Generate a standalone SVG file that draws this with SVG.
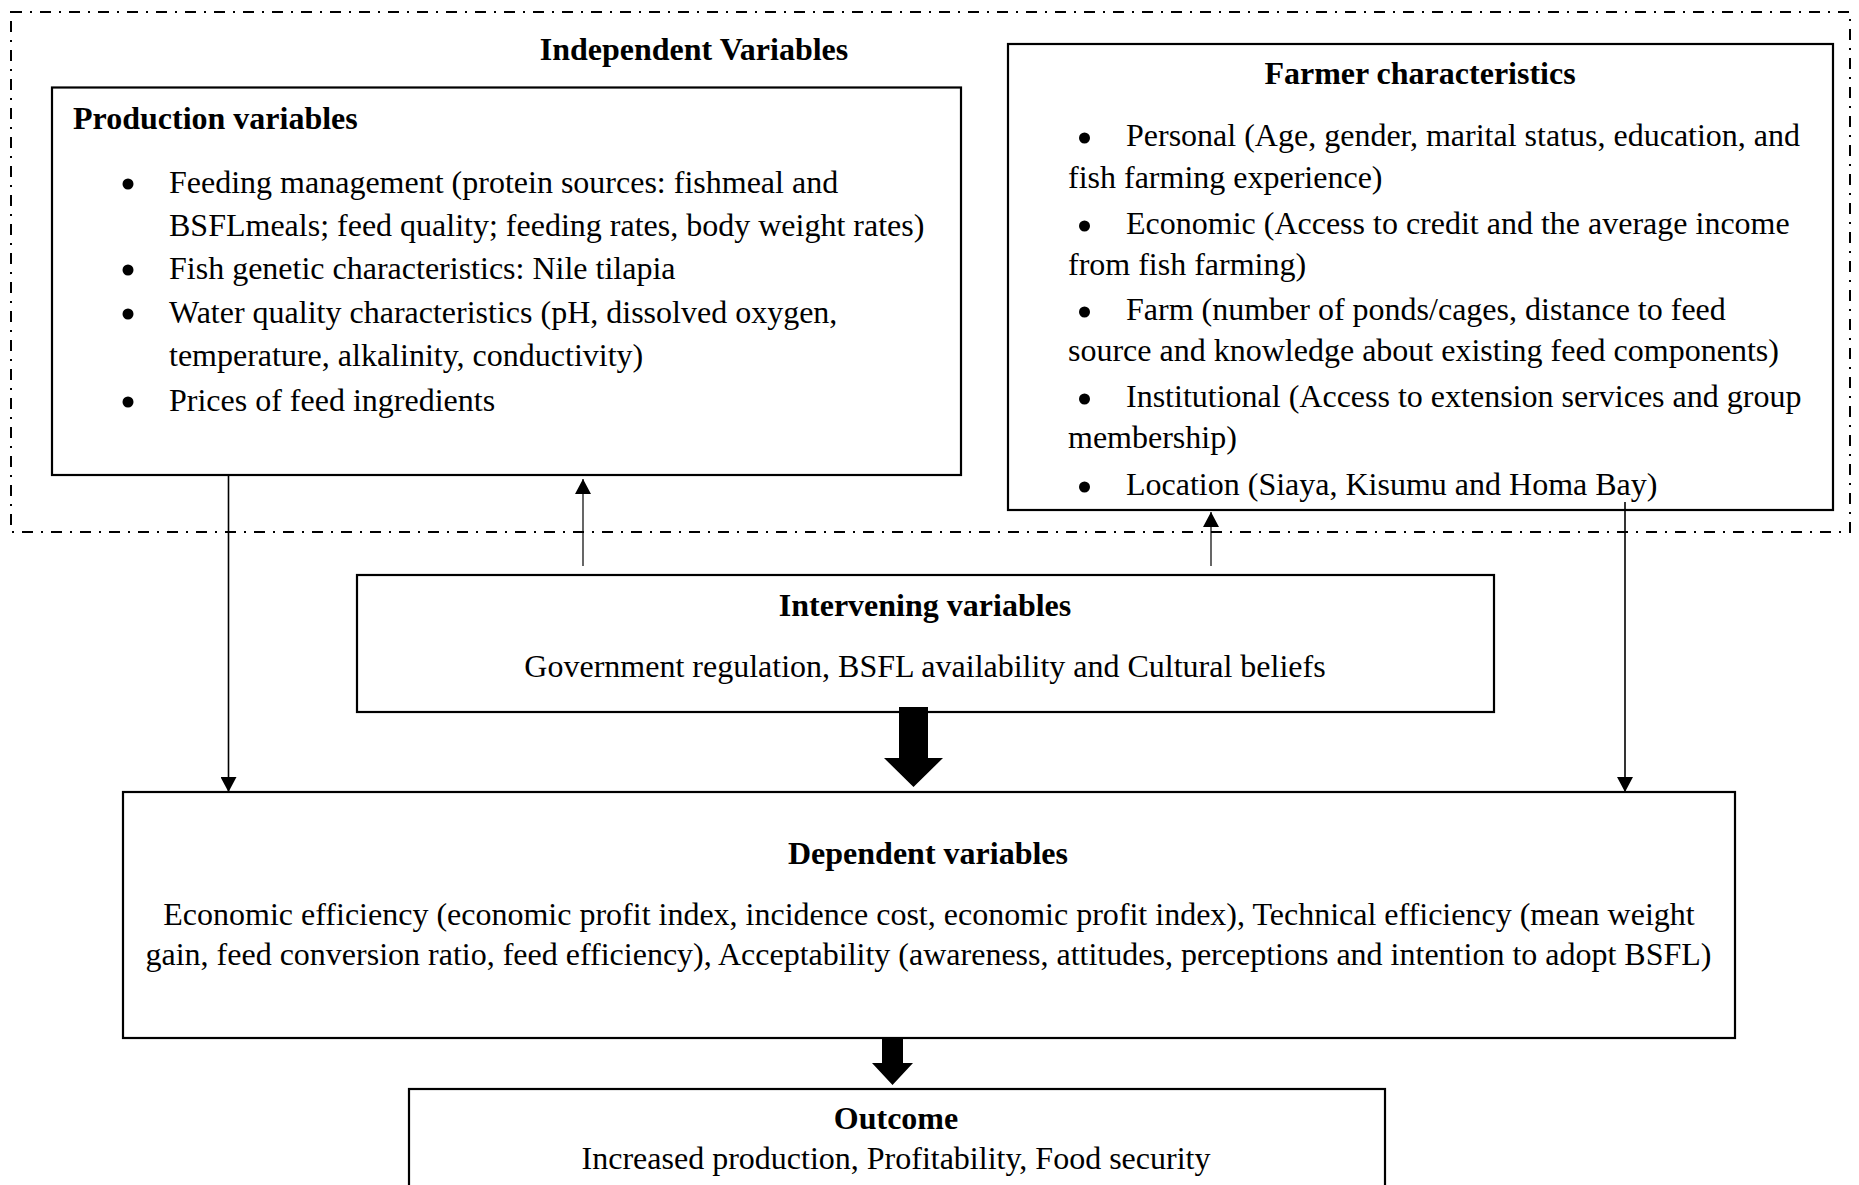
<svg xmlns="http://www.w3.org/2000/svg" width="1859" height="1185" viewBox="0 0 1859 1185">
<style>
  .box { fill: #ffffff; stroke: #000000; stroke-width: 2.2; }
  .frame { fill: none; stroke: #000000; stroke-width: 2; stroke-dasharray: 11 8 2 8; }
  .t { font-family: "Liberation Serif", "Times New Roman", serif; font-size: 32px; fill: #000000; }
  .b { font-weight: bold; }
  .m { text-anchor: middle; }
  .bul { fill: #000000; }
  .conn { fill: none; stroke: #000000; stroke-width: 1.6; }
  .thick { fill: #000000; stroke: none; }
</style>
<defs>
  <marker id="ah" markerUnits="userSpaceOnUse" markerWidth="16" markerHeight="16" viewBox="0 0 16 16" refX="15" refY="8" orient="auto">
    <path d="M0,0 L15,8 L0,16 z" fill="#000000"/>
  </marker>
</defs>
<rect class="frame" x="11" y="12" width="1839" height="520"/>
<text class="t b m" x="694" y="60">Independent Variables</text>
<g id="production">
  <rect class="box" x="52" y="87.5" width="909" height="387.5"/>
  <text class="t b" x="73" y="129">Production variables</text>
  <circle class="bul" cx="128" cy="184" r="5.5"/>
  <text class="t" x="169" y="193">Feeding management (protein sources: fishmeal and</text>
  <text class="t" x="169" y="236">BSFLmeals; feed quality; feeding rates, body weight rates)</text>
  <circle class="bul" cx="128" cy="270" r="5.5"/>
  <text class="t" x="169" y="279">Fish genetic characteristics: Nile tilapia</text>
  <circle class="bul" cx="128" cy="314" r="5.5"/>
  <text class="t" x="169" y="323">Water quality characteristics (pH, dissolved oxygen,</text>
  <text class="t" x="169" y="366">temperature, alkalinity, conductivity)</text>
  <circle class="bul" cx="128" cy="402" r="5.5"/>
  <text class="t" x="169" y="411">Prices of feed ingredients</text>
</g>
<g id="farmer">
  <rect class="box" x="1008" y="44" width="825" height="466"/>
  <text class="t b m" x="1420" y="84">Farmer characteristics</text>
  <circle class="bul" cx="1084.5" cy="138" r="5.5"/>
  <text class="t" x="1126" y="146">Personal (Age, gender, marital status, education, and</text>
  <text class="t" x="1068" y="188">fish farming experience)</text>
  <circle class="bul" cx="1084.5" cy="226" r="5.5"/>
  <text class="t" x="1126" y="234">Economic (Access to credit and the average income</text>
  <text class="t" x="1068" y="275">from fish farming)</text>
  <circle class="bul" cx="1084.5" cy="312" r="5.5"/>
  <text class="t" x="1126" y="320">Farm (number of ponds/cages, distance to feed</text>
  <text class="t" x="1068" y="361">source and knowledge about existing feed components)</text>
  <circle class="bul" cx="1084.5" cy="399" r="5.5"/>
  <text class="t" x="1126" y="407">Institutional (Access to extension services and group</text>
  <text class="t" x="1068" y="448">membership)</text>
  <circle class="bul" cx="1084.5" cy="487" r="5.5"/>
  <text class="t" x="1126" y="495">Location (Siaya, Kisumu and Homa Bay)</text>
</g>
<g id="intervening">
  <rect class="box" x="357" y="575" width="1137" height="137"/>
  <text class="t b m" x="925" y="616">Intervening variables</text>
  <text class="t m" x="925" y="677">Government regulation, BSFL availability and Cultural beliefs</text>
</g>
<g id="dependent">
  <rect class="box" x="123" y="792" width="1612" height="246"/>
  <text class="t b m" x="928" y="864">Dependent variables</text>
  <text class="t m" x="929" y="925">Economic efficiency (economic profit index, incidence cost, economic profit index), Technical efficiency (mean weight</text>
  <text class="t m" x="928.5" y="965">gain, feed conversion ratio, feed efficiency), Acceptability (awareness, attitudes, perceptions and intention to adopt BSFL)</text>
</g>
<g id="outcome">
  <rect class="box" x="409" y="1089" width="976" height="120"/>
  <text class="t b m" x="896" y="1129">Outcome</text>
  <text class="t m" x="896" y="1169">Increased production, Profitability, Food security</text>
</g>
<g id="connectors">
  <path class="conn" d="M228.5,475 V792" marker-end="url(#ah)"/>
  <path class="conn" d="M583,566 V479" marker-end="url(#ah)" style="stroke-width:1.2"/>
  <path class="conn" d="M1211,566 V512" marker-end="url(#ah)" style="stroke-width:1.2"/>
  <path class="conn" d="M1625,502 V792" marker-end="url(#ah)"/>
  <polygon class="thick" points="899,707 928,707 928,758 943,758 913.5,787 884,758 899,758"/>
  <polygon class="thick" points="882,1038 903,1038 903,1063 913,1063 892.5,1085 872,1063 882,1063"/>
</g>
</svg>
